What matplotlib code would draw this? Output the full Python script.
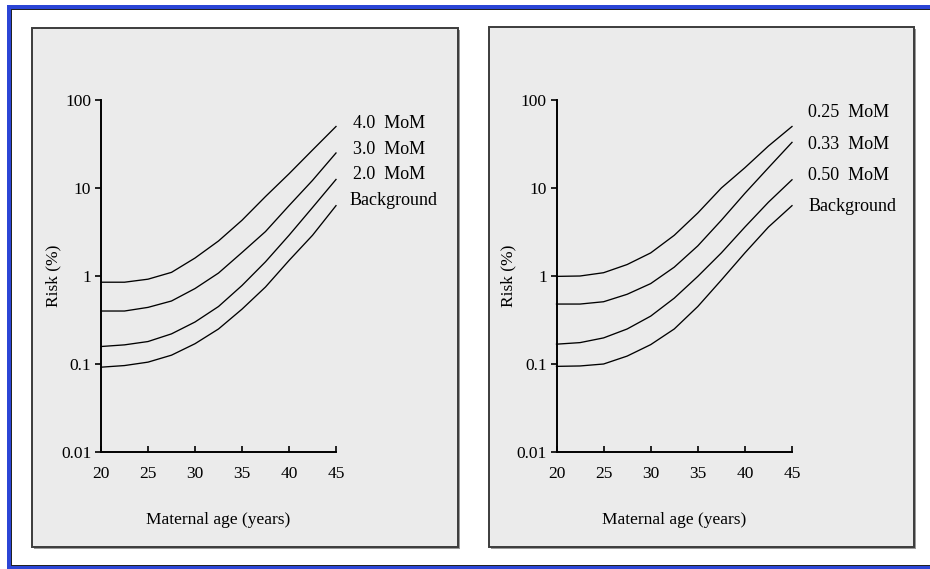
import matplotlib
matplotlib.use("Agg")
import matplotlib.pyplot as plt
from matplotlib.patches import Rectangle

# ---------------- data ----------------
ages = [20, 22.5, 25, 27.5, 30, 32.5, 35, 37.5, 40, 42.5, 45]

left_names = ["4.0  MoM", "3.0  MoM", "2.0  MoM", "Background"]
left_mom40 = [0.85, 0.85, 0.92, 1.1, 1.6, 2.5, 4.3, 8.0, 14.5, 27, 50]
left_mom30 = [0.40, 0.40, 0.44, 0.52, 0.72, 1.08, 1.85, 3.2, 6.3, 12.2, 25]
left_mom20 = [0.158, 0.165, 0.18, 0.22, 0.30, 0.45, 0.78, 1.45, 2.9, 6.0, 12.5]
left_bg = [0.092, 0.096, 0.105, 0.126, 0.17, 0.25, 0.42, 0.75, 1.5, 2.9, 6.3]

right_names = ["0.25  MoM", "0.33  MoM", "0.50  MoM", "Background"]
right_mom025 = [0.99, 1.0, 1.09, 1.35, 1.83, 2.9, 5.2, 10, 17, 30, 50]
right_mom033 = [0.48, 0.48, 0.51, 0.62, 0.82, 1.26, 2.2, 4.3, 8.7, 17, 33]
right_mom050 = [0.168, 0.175, 0.198, 0.25, 0.35, 0.56, 0.99, 1.83, 3.6, 6.9, 12.4]
right_bg = [0.094, 0.095, 0.10, 0.123, 0.166, 0.25, 0.45, 0.9, 1.83, 3.6, 6.3]

x_ticks = [20, 25, 30, 35, 40, 45]
y_ticks = [0.01, 0.1, 1, 10, 100]
y_ticklabels = ["0.01", "0.1", "1", "10", "100"]
x_label = "Maternal age (years)"
y_label = "Risk (%)"

# label anchor positions (data coords of the panel)
left_label_x = [46.78, 46.78, 46.78, 46.41]
left_label_y = [54, 27.2, 14.1, 7.2]
right_label_x = [46.73, 46.73, 46.73, 46.73]
right_label_y = [71.6, 30.9, 13.7, 6.15]

# ---------------- figure ----------------
plt.rcParams["font.family"] = ["Liberation Serif", "DejaVu Serif"]
W, H = 930, 569
fig = plt.figure(figsize=(W / 100, H / 100), dpi=100)
fig.patch.set_facecolor("white")


def frect(x0, y0, x1, y1, **kw):
    r = Rectangle((x0 / W, 1 - y1 / H), (x1 - x0) / W, (y1 - y0) / H,
                  transform=fig.transFigure, zorder=-10, **kw)
    fig.patches.append(r)


# blue outer frame (no right edge)
blue = "#2b45d6"
frect(7, 5, W + 2, 9, facecolor=blue, edgecolor="none")
frect(11, 9, W + 2, 10.3, facecolor="#222222", edgecolor="none")
frect(7, 5, 11, H + 2, facecolor=blue, edgecolor="none")
frect(11, 9, 12, 566, facecolor="#222222", edgecolor="none")
frect(7, 566, W + 2, H + 2, facecolor=blue, edgecolor="none")
frect(11, 564.8, W + 2, 566, facecolor="#222222", edgecolor="none")

# grey panels
for (x0, y0, x1, y1) in [(32, 28, 458, 547), (489, 27, 914, 547)]:
    frect(x0 + 1.5, y0 + 1.5, x1 + 1.5, y1 + 1.5, facecolor="#9a9a9a",
          edgecolor="none")
    frect(x0, y0, x1, y1, facecolor="#ebebeb", edgecolor="#3c3c3c",
          linewidth=1.4)


def make_axes(px_left, px_right, py_top, py_bottom):
    return fig.add_axes([px_left / W, 1 - py_bottom / H,
                         (px_right - px_left) / W, (py_bottom - py_top) / H])


def style(ax):
    ax.set_facecolor("none")
    ax.set_yscale("log")
    ax.set_xlim(20, 45)
    ax.set_ylim(0.01, 100)
    for s in ["top", "right"]:
        ax.spines[s].set_visible(False)
    for s in ["left", "bottom"]:
        ax.spines[s].set_linewidth(1.4)
        ax.spines[s].set_color("black")
    ax.set_xticks(x_ticks)
    ax.set_xticklabels([str(t) for t in x_ticks])
    ax.set_yticks(y_ticks)
    ax.set_yticklabels(y_ticklabels)
    ax.minorticks_off()
    ax.tick_params(axis="x", direction="in", length=4, width=1.2,
                   pad=10, labelsize=12.5)
    ax.tick_params(axis="y", direction="out", length=4, width=1.2,
                   pad=3, labelsize=12.5)
    ax.set_xlabel(x_label, fontsize=12.5, labelpad=22)
    ax.set_ylabel(y_label, fontsize=12.5, labelpad=0)


axL = make_axes(101, 336, 100, 452)
axR = make_axes(556.5, 792, 100, 452)

for ax, series, names, lx, ly in [
    (axL, [left_mom40, left_mom30, left_mom20, left_bg], left_names,
     left_label_x, left_label_y),
    (axR, [right_mom025, right_mom033, right_mom050, right_bg], right_names,
     right_label_x, right_label_y),
]:
    style(ax)
    for vals in series:
        ax.plot(ages, vals, color="black", lw=0.95, clip_on=False)
    for name, x, y in zip(names, lx, ly):
        ax.text(x, y, name, ha="left", va="center", fontsize=13,
                clip_on=False)

fig.savefig("out.png", dpi=100)
